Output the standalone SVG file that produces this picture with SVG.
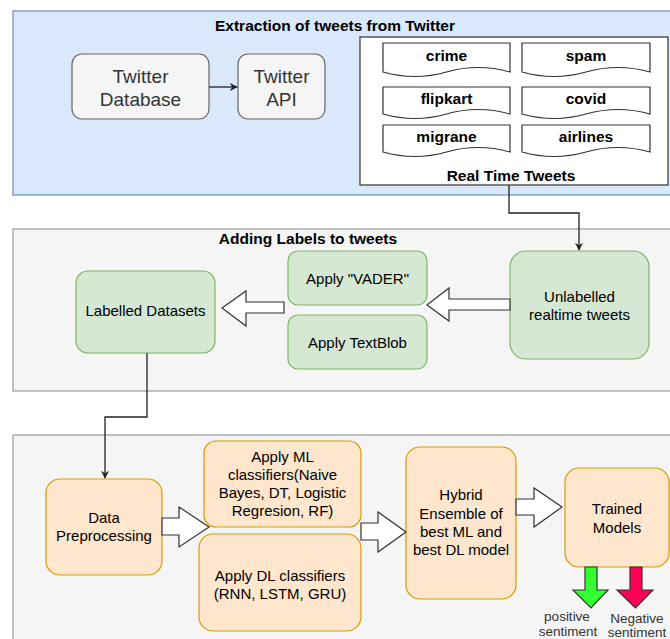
<svg xmlns="http://www.w3.org/2000/svg" width="670" height="639" viewBox="0 0 670 639">
<defs>
<style>
text{font-family:"Liberation Sans",Arial,sans-serif;text-anchor:middle;fill:#000}
.t{font-size:15px}
.b{font-size:15.5px;font-weight:bold}
.tw{font-size:19px;fill:#333}
.s{font-size:13.5px;fill:#333}
.gray{fill:#f5f5f5;stroke:#999;stroke-width:1.2}
.blue{fill:#dae8fc;stroke:#6c8ebf;stroke-width:1.2}
.twb{fill:#f5f5f5;stroke:#666;stroke-width:1.2}
.grn{fill:#d5e8d4;stroke:#82b366;stroke-width:1.2}
.org{fill:#ffe6cc;stroke:#d79b00;stroke-width:1.2}
.doc{fill:#fff;stroke:#333;stroke-width:1.2}
.blk{fill:#fff;stroke:#333;stroke-width:1.2}
.ln{fill:none;stroke:#222;stroke-width:1.3}
</style>
<marker id="ah" viewBox="0 0 10 10" refX="9" refY="5" markerWidth="8" markerHeight="8" markerUnits="userSpaceOnUse" orient="auto">
<path d="M0,0 L10,5 L0,10 L3,5 Z" fill="#222"/>
</marker>
</defs>

<!-- Sections -->
<g id="sec1">
<rect class="blue" x="13" y="11" width="670" height="184"/>
<text class="b" x="335" y="31">Extraction of tweets from Twitter</text>
</g>
<g id="sec2">
<rect class="gray" x="13" y="229" width="670" height="162"/>
<text class="b" x="308" y="244">Adding Labels to tweets</text>
</g>
<g id="sec3">
<rect class="gray" x="13" y="435" width="670" height="220"/>
</g>

<g id="twitterDatabase">
<rect class="twb" x="72" y="54" width="137" height="65" rx="10"/>
<text class="tw" x="140.5" y="83">Twitter</text>
<text class="tw" x="140.5" y="106">Database</text>
</g>
<g id="twitterAPI">
<rect class="twb" x="238" y="54" width="87" height="65" rx="10"/>
<text class="tw" x="281.5" y="83">Twitter</text>
<text class="tw" x="281.5" y="106">API</text>
</g>

<g id="realTimeTweets">
<rect class="doc" x="360" y="37" width="308" height="148"/>
<text class="b" x="511" y="181">Real Time Tweets</text>
</g>
<g id="crime">
<path class="doc" d="M383,43 H510 V72 Q478,63 446.5,72 Q415,81 383,72 Z"/>
<text class="b" x="446.5" y="61">crime</text>
</g>
<g id="spam">
<path class="doc" d="M522,43 H650 V72 Q618,63 586,72 Q554,81 522,72 Z"/>
<text class="b" x="586" y="61">spam</text>
</g>
<g id="flipkart">
<path class="doc" d="M383,87 H510 V114 Q478,105 446.5,114 Q415,123 383,114 Z"/>
<text class="b" x="446.5" y="104">flipkart</text>
</g>
<g id="covid">
<path class="doc" d="M522,87 H650 V114 Q618,105 586,114 Q554,123 522,114 Z"/>
<text class="b" x="586" y="104">covid</text>
</g>
<g id="migrane">
<path class="doc" d="M383,125 H510 V152 Q478,143 446.5,152 Q415,161 383,152 Z"/>
<text class="b" x="446.5" y="142">migrane</text>
</g>
<g id="airlines">
<path class="doc" d="M522,125 H650 V152 Q618,143 586,152 Q554,161 522,152 Z"/>
<text class="b" x="586" y="142">airlines</text>
</g>

<g id="labelledDatasets">
<rect class="grn" x="76" y="271" width="139" height="82" rx="12"/>
<text class="t" x="145.5" y="316">Labelled Datasets</text>
</g>
<g id="applyVader">
<rect class="grn" x="288" y="251" width="139" height="54" rx="10"/>
<text class="t" x="357.5" y="284">Apply "VADER"</text>
</g>
<g id="applyTextBlob">
<rect class="grn" x="288" y="315" width="139" height="54" rx="10"/>
<text class="t" x="357.5" y="348">Apply TextBlob</text>
</g>
<g id="unlabelled">
<rect class="grn" x="510" y="251" width="139" height="108" rx="16"/>
<text class="t" x="579.5" y="302">Unlabelled</text>
<text class="t" x="579.5" y="320">realtime tweets</text>
</g>

<g id="dataPreprocessing">
<rect class="org" x="46" y="479" width="116" height="96" rx="14"/>
<text class="t" x="104" y="523">Data</text>
<text class="t" x="104" y="541">Preprocessing</text>
</g>
<g id="applyML">
<rect class="org" x="204" y="441" width="157" height="86" rx="12"/>
<text class="t" x="282.5" y="462">Apply ML</text>
<text class="t" x="282.5" y="480">classifiers(Naive</text>
<text class="t" x="282.5" y="498">Bayes, DT, Logistic</text>
<text class="t" x="282.5" y="516">Regresion, RF)</text>
</g>
<g id="applyDL">
<rect class="org" x="199" y="534" width="162" height="97" rx="14"/>
<text class="t" x="280" y="580.5">Apply DL classifiers</text>
<text class="t" x="280" y="598.5">(RNN, LSTM, GRU)</text>
</g>
<g id="hybrid">
<rect class="org" x="406" y="447" width="110" height="152" rx="14"/>
<text class="t" x="461" y="500">Hybrid</text>
<text class="t" x="461" y="519">Ensemble of</text>
<text class="t" x="461" y="537">best ML and</text>
<text class="t" x="461" y="555">best DL model</text>
</g>
<g id="trainedModels">
<rect class="org" x="565" y="468" width="104" height="99" rx="14"/>
<text class="t" x="617" y="514">Trained</text>
<text class="t" x="617" y="533">Models</text>
</g>

<g id="positive">
<path d="M585,567 H597 V590 H608 L591,608 L573,590 H585 Z" fill="#33ff33" stroke="#333" stroke-width="1.2"/>
<text class="s" x="567" y="621">positive</text>
<text class="s" x="568" y="636">sentiment</text>
</g>
<g id="negative">
<path d="M630,567 H642 V590 H653 L635.5,608 L617,590 H630 Z" fill="#ff0055" stroke="#333" stroke-width="1.2"/>
<text class="s" x="637" y="623">Negative</text>
<text class="s" x="637" y="637">sentiment</text>
</g>

<g id="connectors">
<path class="ln" d="M209,87 H237" marker-end="url(#ah)"/>
<path class="ln" d="M509,185 V213 H579 V250" marker-end="url(#ah)"/>
<path class="ln" d="M147,353 V417 H105 V478" marker-end="url(#ah)"/>
<path class="blk" d="M510,299 H449 V288 L427,305 L449,321 V310 H510 Z"/>
<path class="blk" d="M284,302 H246 V291 L222,308 L246,326 V313 H284 Z"/>
<path class="blk" d="M162,518 H179 V507 L209,527 L179,547 V535 H162 Z"/>
<path class="blk" d="M361,523 H378 V512 L406,532 L378,552 V540 H361 Z"/>
<path class="blk" d="M516,499 H534 V488 L562,507 L534,527 V515 H516 Z"/>
</g>
</svg>
